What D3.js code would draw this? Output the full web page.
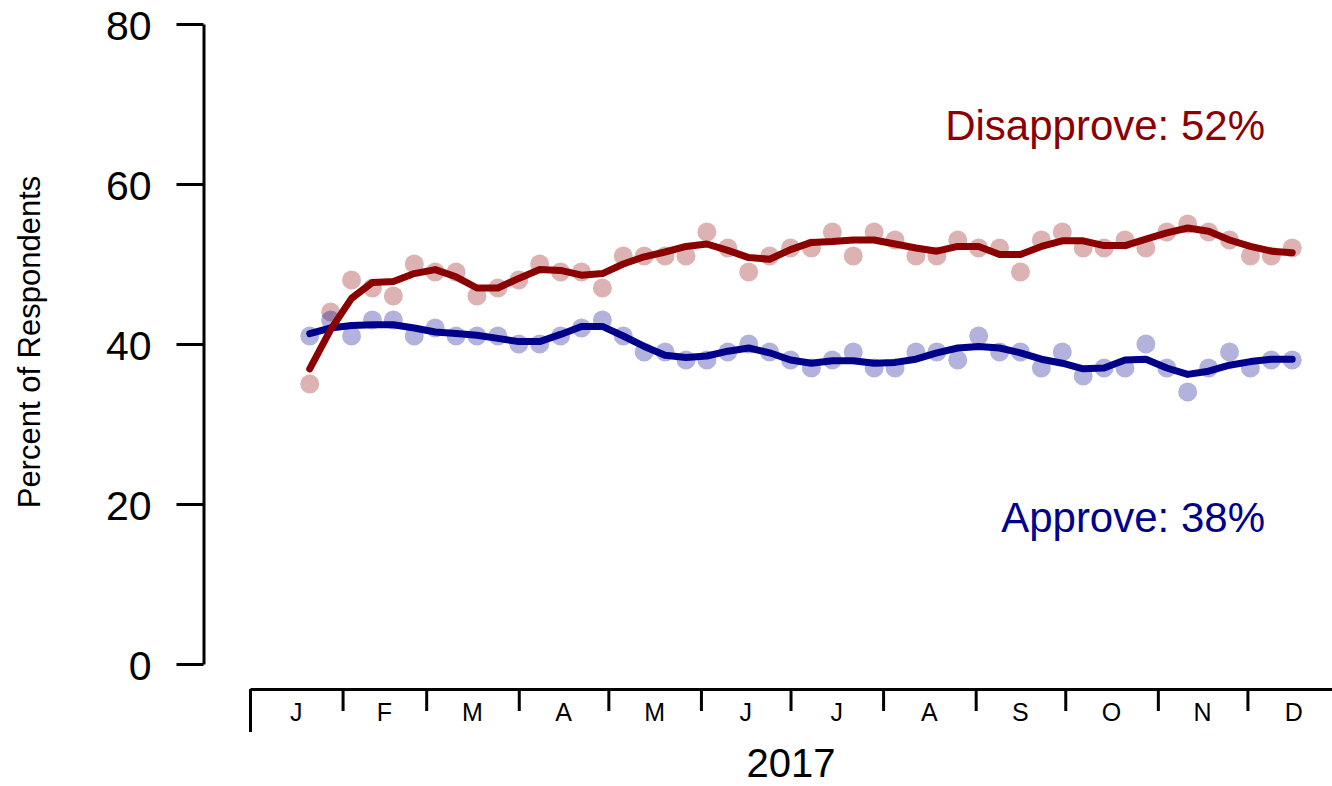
<!DOCTYPE html>
<html>
<head>
<meta charset="utf-8">
<script src="https://cdn.jsdelivr.net/npm/d3@7"></script>
<style>
  body { margin: 0; background: #fff; }
  svg text { font-family: "Liberation Sans", Arial, sans-serif; }
</style>
</head>
<body>
<div class="approvalChart"></div>
<script>
// weekly poll dates
let pollDates = [
  '2017-01-21', '2017-01-28', '2017-02-04', '2017-02-11', '2017-02-18', '2017-02-25',
  '2017-03-04', '2017-03-11', '2017-03-18', '2017-03-25', '2017-04-01', '2017-04-08',
  '2017-04-15', '2017-04-22', '2017-04-29', '2017-05-06', '2017-05-13', '2017-05-20',
  '2017-05-27', '2017-06-03', '2017-06-10', '2017-06-17', '2017-06-24', '2017-07-01',
  '2017-07-08', '2017-07-15', '2017-07-22', '2017-07-29', '2017-08-05', '2017-08-12',
  '2017-08-19', '2017-08-26', '2017-09-02', '2017-09-09', '2017-09-16', '2017-09-23',
  '2017-09-30', '2017-10-07', '2017-10-14', '2017-10-21', '2017-10-28', '2017-11-04',
  '2017-11-11', '2017-11-18', '2017-11-25', '2017-12-02', '2017-12-09', '2017-12-16'
];

let disapprove = [35, 44, 48, 47, 46, 50, 49, 49, 46, 47, 48, 50, 49, 49, 47, 51,
  51, 51, 51, 54, 52, 49, 51, 52, 52, 54, 51, 54, 53, 51, 51, 53,
  52, 52, 49, 53, 54, 52, 52, 53, 52, 54, 55, 54, 53, 51, 51, 52];

let approve = [41, 43, 41, 43, 43, 41, 42, 41, 41, 41, 40, 40, 41, 42, 43, 41,
  39, 39, 38, 38, 39, 40, 39, 38, 37, 38, 39, 37, 37, 39, 39, 38,
  41, 39, 39, 37, 39, 36, 37, 37, 40, 37, 34, 37, 39, 37, 38, 38];

// smoothed trend lines
let disapproveTrend = [36.9, 41.8, 45.7, 47.7, 47.8, 48.8, 49.3, 48.4, 47.0, 47.0,
  48.2, 49.3, 49.2, 48.6, 48.8, 50.0, 50.9, 51.5, 52.2, 52.5,
  51.7, 50.8, 50.6, 51.8, 52.7, 52.8, 53.0, 53.0, 52.5, 52.0,
  51.6, 52.2, 52.2, 51.2, 51.2, 52.2, 52.9, 52.9, 52.3, 52.3,
  53.1, 53.9, 54.5, 54.1, 53.0, 52.2, 51.6, 51.4];

let approveTrend = [41.3, 42.0, 42.3, 42.4, 42.4, 42.0, 41.5, 41.3, 41.1, 40.7,
  40.3, 40.3, 41.2, 42.2, 42.2, 41.0, 39.7, 38.6, 38.3, 38.5,
  39.1, 39.5, 38.9, 38.0, 37.6, 37.9, 37.9, 37.6, 37.7, 38.1,
  38.9, 39.5, 39.7, 39.5, 38.9, 38.1, 37.6, 36.9, 37.0, 38.0,
  38.1, 37.0, 36.2, 36.6, 37.35, 37.8, 38.1, 38.1];

let monthLabels = ['J', 'F', 'M', 'A', 'M', 'J', 'J', 'A', 'S', 'O', 'N', 'D'];
let yTicks = [0, 20, 40, 60, 80];
let yearLabel = '2017';
let disapproveLabel = 'Disapprove: 52%';
let approveLabel = 'Approve: 38%';

let red = '#8b0000';
let blue = '#00008b';

let width = 1332;
let height = 786;

let parseDate = d3.timeParse('%Y-%m-%d');
let dates = pollDates.map(parseDate);
let yearStart = new Date(2017, 0, 1);
let yearEnd = new Date(2018, 0, 1);

let svg = d3.select('.approvalChart')
  .append('svg')
  .attr('width', width)
  .attr('height', height);

let xScale = d3.scaleTime()
  .domain([yearStart, yearEnd])
  .range([250, 1340]);

let yScale = d3.scaleLinear()
  .domain([0, 80])
  .range([664, 24]);

// y axis
let yAxis = svg.append('g')
  .attr('transform', 'translate(203.5, 0)')
  .call(d3.axisLeft(yScale)
    .tickValues(yTicks)
    .tickSize(27)
    .tickSizeOuter(0)
    .tickPadding(25));
yAxis.selectAll('path, line').attr('stroke', '#000').attr('stroke-width', 3);
yAxis.selectAll('text')
  .attr('font-size', 41)
  .attr('font-family', '"Liberation Sans", Arial, sans-serif')
  .attr('dy', '0.37em')
  .attr('fill', '#000');

svg.append('text')
  .attr('transform', 'translate(40, 342) rotate(-90)')
  .attr('text-anchor', 'middle')
  .attr('font-size', 31)
  .text('Percent of Respondents');

// x axis: month ticks, plus a longer tick at the year boundary
let monthStarts = d3.timeMonth.range(yearStart, yearEnd);

let xAxis = svg.append('g')
  .attr('transform', 'translate(0, 689)')
  .call(d3.axisBottom(xScale)
    .tickValues(monthStarts.slice(1))
    .tickSize(22)
    .tickSizeOuter(0)
    .tickFormat(''));
xAxis.selectAll('path, line').attr('stroke', '#000').attr('stroke-width', 3);

let yearAxis = svg.append('g')
  .attr('transform', 'translate(0, 689)')
  .call(d3.axisBottom(xScale)
    .tickValues([yearStart, yearEnd])
    .tickSize(43)
    .tickSizeOuter(0)
    .tickFormat(''));
yearAxis.select('path').remove();
yearAxis.selectAll('line').attr('stroke', '#000').attr('stroke-width', 3);

svg.append('g').selectAll('.month')
  .data(monthStarts)
  .enter().append('text')
  .attr('class', 'month')
  .attr('x', function(d) {
    return (xScale(d) + xScale(d3.timeMonth.offset(d, 1))) / 2;
  })
  .attr('y', 721)
  .attr('text-anchor', 'middle')
  .attr('font-size', 25)
  .text(function(d, i) { return monthLabels[i]; });

svg.append('text')
  .attr('x', 791)
  .attr('y', 777)
  .attr('text-anchor', 'middle')
  .attr('font-size', 40)
  .text(yearLabel);

// poll points
function drawPoints(values, colour) {
  svg.append('g').selectAll('circle')
    .data(values)
    .enter().append('circle')
    .attr('cx', function(d, i) { return xScale(dates[i]); })
    .attr('cy', function(d) { return yScale(d); })
    .attr('r', 9.5)
    .attr('fill', colour)
    .attr('fill-opacity', 0.3);
}
drawPoints(disapprove, red);
drawPoints(approve, blue);

// trend lines
let line = d3.line()
  .x(function(d, i) { return xScale(dates[i]); })
  .y(function(d) { return yScale(d); });

function drawTrend(values, colour) {
  svg.append('path')
    .datum(values)
    .attr('d', line)
    .attr('fill', 'none')
    .attr('stroke', colour)
    .attr('stroke-width', 7)
    .attr('stroke-linejoin', 'round')
    .attr('stroke-linecap', 'round');
}
drawTrend(approveTrend, blue);
drawTrend(disapproveTrend, red);

// labels
svg.append('text')
  .attr('x', 1265)
  .attr('y', 140)
  .attr('text-anchor', 'end')
  .attr('font-size', 42)
  .attr('fill', red)
  .text(disapproveLabel);

svg.append('text')
  .attr('x', 1265)
  .attr('y', 532)
  .attr('text-anchor', 'end')
  .attr('font-size', 42)
  .attr('fill', blue)
  .text(approveLabel);
</script>
</body>
</html>
